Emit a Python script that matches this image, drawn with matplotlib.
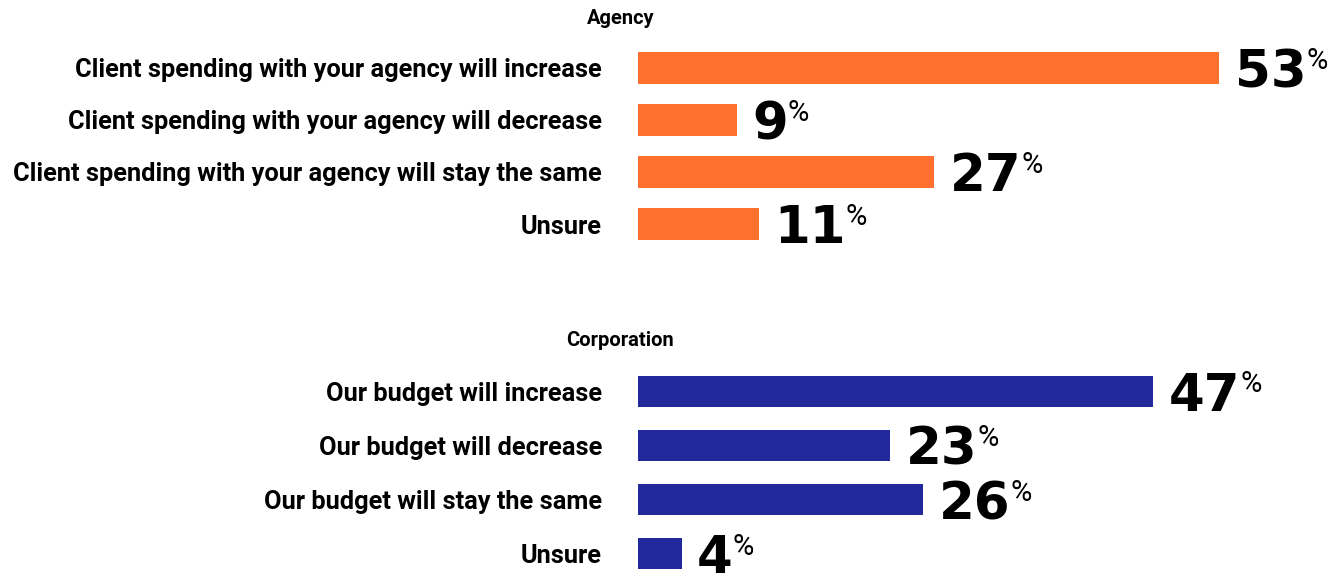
import matplotlib
matplotlib.use("Agg")
import matplotlib.pyplot as plt
from matplotlib.transforms import ScaledTranslation

agency_labels = ["Client spending with your agency will increase",
                 "Client spending with your agency will decrease",
                 "Client spending with your agency will stay the same",
                 "Unsure"]
agency_values = [53, 9, 27, 11]
corp_labels = ["Our budget will increase",
               "Our budget will decrease",
               "Our budget will stay the same",
               "Unsure"]
corp_values = [47, 23, 26, 4]

label_font = ["Roboto", "DejaVu Sans"]

W, H = 1341, 574
fig = plt.figure(figsize=(W / 100, H / 100), dpi=100)

def px_axes(left, top, right, bottom):
    return fig.add_axes([left / W, 1 - bottom / H, (right - left) / W, (bottom - top) / H])

def draw(ax, labels, values, color, bh):
    y = list(range(len(values)))
    ax.barh(y, values, height=bh, color=color)
    ax.set_xlim(0, 64.1)
    ax.set_ylim(len(values) - 0.5, -0.5)
    ax.set_yticks(y)
    ax.set_yticklabels(labels, fontsize=18.3, fontweight="bold", family=label_font)
    up = ScaledTranslation(0, 3 / 100, fig.dpi_scale_trans)
    for lab in ax.get_yticklabels():
        lab.set_transform(lab.get_transform() + up)
    ax.tick_params(axis="y", length=0, pad=26)
    ax.set_xticks([])
    for s in ax.spines.values():
        s.set_visible(False)
    for yi, v in zip(y, values):
        t = ax.annotate(str(v), xy=(v, yi), xytext=(11, -14), textcoords="offset points",
                        ha="left", va="baseline", fontsize=37, fontweight="heavy",
                        family="DejaVu Sans", color="black")
        ax.annotate("%", xy=(1, 1), xycoords=t, xytext=(0, 1), textcoords="offset points",
                    ha="left", va="top", fontsize=21, family=label_font, color="black")

ax1 = px_axes(638, 42, W, 250)
draw(ax1, agency_labels, agency_values, "#FF6F2D", 0.6)
ax2 = px_axes(638, 364, W, 581)
draw(ax2, corp_labels, corp_values, "#222A9B", 0.57)

fig.text(621 / W, 1 - 19 / H, "Agency", ha="center", va="center", fontsize=14.5,
         fontweight="bold", family=label_font)
fig.text(620 / W, 1 - 340 / H, "Corporation", ha="center", va="center", fontsize=14.5,
         fontweight="bold", family=label_font)

fig.savefig("out.png", dpi=100, facecolor="white")
